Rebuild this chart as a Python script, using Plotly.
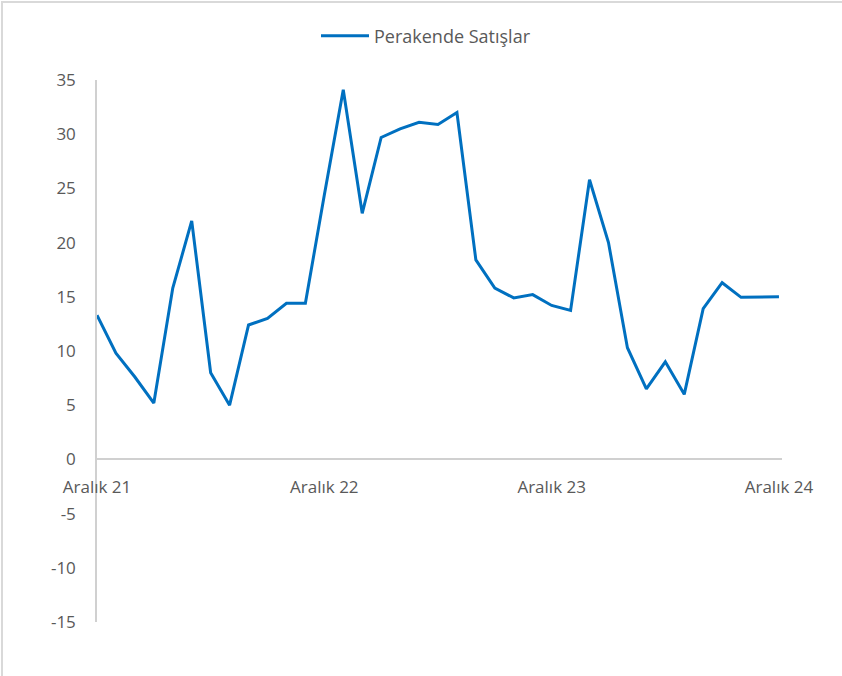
import plotly.graph_objects as go

# monthly values, Aralık 21 .. Aralık 24 (37 months)
months = list(range(37))
sales = [13.3, 9.8, 7.6, 5.2, 15.8, 22.0, 8.0, 5.0, 12.4, 13.0,
         14.4, 14.4, 24.4, 34.1, 22.7, 29.7, 30.5, 31.1, 30.9, 32.0,
         18.4, 15.8, 14.9, 15.2, 14.2, 13.75, 25.8, 20.0, 10.3, 6.5,
         9.0, 6.0, 13.9, 16.3, 14.95, 15.0, 15.0]
tick_pos = [0, 12, 24, 36]
tick_text = ["Aralık 21", "Aralık 22", "Aralık 23", "Aralık 24"]
y_ticks = [35, 30, 25, 20, 15, 10, 5, 0, -5, -10, -15]
y_text = ["35", "30", "25", "20", "15", "10", "5", "0", "-5", "-10", "-15"]

W, H = 842, 676
L, R, T, B = 97, 60, 80, 54
pw, ph = W - L - R, H - T - B

font = dict(family="Open Sans, Noto Sans, sans-serif", size=17, color="#595959")

fig = go.Figure()
fig.add_trace(go.Scatter(
    x=months, y=sales, mode="lines", name="Perakende Satışlar",
    line=dict(color="#0070C0", width=3),
))

fig.update_layout(
    width=W, height=H,
    margin=dict(l=L, r=R, t=T, b=B, autoexpand=False),
    paper_bgcolor="white", plot_bgcolor="white",
    font=font,
    showlegend=True,
    legend=dict(orientation="h", x=(426 - L) / pw, xanchor="center",
                y=(H - B - 36) / ph, yanchor="middle",
                font=dict(size=18, color="#595959"), itemwidth=48),
    xaxis=dict(
        range=[0, 36.16], tickvals=tick_pos, ticktext=tick_text,
        showgrid=False, zeroline=False, showline=True, linecolor="#d0d0d0",
        linewidth=1.5, ticks="", anchor="free", position=15 / 50,
        tickfont=dict(size=17, color="#595959"), ticklabelstandoff=12,
    ),
    yaxis=dict(
        range=[-15, 35], tickvals=y_ticks, ticktext=y_text, showgrid=False,
        zeroline=False, showline=True, linecolor="#d0d0d0", linewidth=1.5,
        ticks="", tickfont=dict(size=17, color="#595959"), ticklabelstandoff=16,
    ),
)

# light frame on top and left edges
fig.add_shape(type="line", xref="paper", yref="paper",
              x0=(1 - L) / pw, x1=(W - L) / pw, y0=(H - B - 2) / ph, y1=(H - B - 2) / ph,
              line=dict(color="#d9d9d9", width=2))
fig.add_shape(type="line", xref="paper", yref="paper",
              x0=(2 - L) / pw, x1=(2 - L) / pw, y0=(H - B - 1) / ph, y1=-B / ph,
              line=dict(color="#d9d9d9", width=2))

# page has a default 8px body margin; drop it so the figure sits at the corner
fig.write_html("out.html", config={"displayModeBar": False},
               post_script="document.body.style.margin='0';")
